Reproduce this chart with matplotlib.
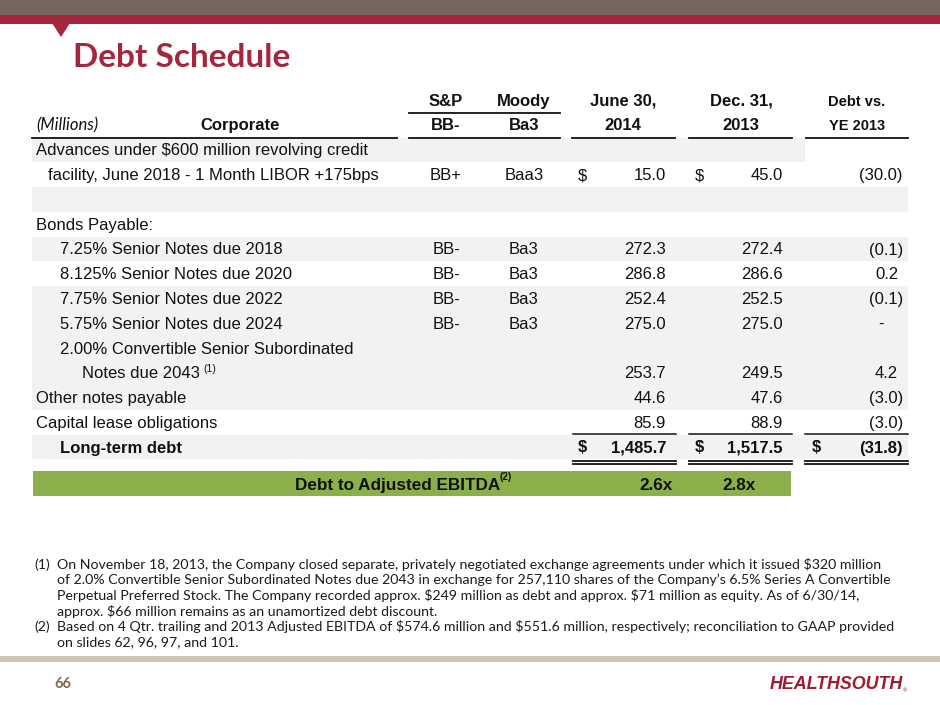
import matplotlib.pyplot as plt
from matplotlib.patches import Rectangle, Polygon

plt.rcParams['text.parse_math'] = False

# table content (millions)
row_labels = ["Advances under $600 million revolving credit",
              "facility, June 2018 - 1 Month LIBOR +175bps",
              "",
              "Bonds Payable:",
              "7.25% Senior Notes due 2018",
              "8.125% Senior Notes due 2020",
              "7.75% Senior Notes due 2022",
              "5.75% Senior Notes due 2024",
              "2.00% Convertible Senior Subordinated",
              "Notes due 2043",
              "Other notes payable",
              "Capital lease obligations",
              "Long-term debt"]
sp_rating = ["", "BB+", "", "", "BB-", "BB-", "BB-", "BB-", "", "", "", "", ""]
moody_rating = ["", "Baa3", "", "", "Ba3", "Ba3", "Ba3", "Ba3", "", "", "", "", ""]
jun_2014 = [None, 15.0, None, None, 272.3, 286.8, 252.4, 275.0, None, 253.7, 44.6, 85.9, 1485.7]
dec_2013 = [None, 45.0, None, None, 272.4, 286.6, 252.5, 275.0, None, 249.5, 47.6, 88.9, 1517.5]
vs_ye2013 = [None, -30.0, None, None, -0.1, 0.2, -0.1, 0.0, None, 4.2, -3.0, -3.0, -31.8]
ebitda_multiple = [2.6, 2.8]

footnotes = [
    ("(1)", ["On November 18, 2013, the Company closed separate, privately negotiated exchange agreements under which it issued $320 million",
             "of 2.0% Convertible Senior Subordinated Notes due 2043 in exchange for 257,110 shares of the Company\u2019s 6.5% Series A Convertible",
             "Perpetual Preferred Stock. The Company recorded approx. $249 million as debt and approx. $71 million as equity. As of 6/30/14,",
             "approx. $66 million remains as an unamortized debt discount."]),
    ("(2)", ["Based on 4 Qtr. trailing and 2013 Adjusted EBITDA of $574.6 million and $551.6 million, respectively; reconciliation to GAAP provided",
             "on slides 62, 96, 97, and 101."]),
]

# layout / style
indent_px = [36, 48, 36, 36, 60, 60, 60, 60, 60, 82, 36, 36, 60]
shade = [805, 0, 908, 0, 908, 0, 908, 908, 908, 908, 908, 0, 908]
dollar_rows = [1, 12]
RED = "#A6263E"
BROWN = "#76675E"
GRAY = "#F2F2F2"
GREEN = "#8BAF4A"
INK = "#111111"
TF = "Liberation Sans"


def fmt(v):
    if v == 0:
        return "-"
    s = f"{abs(v):,.1f}"
    return f"({s})" if v < 0 else s


fig = plt.figure(figsize=(9.4, 7.05), dpi=100)
ax = fig.add_axes([0, 0, 1, 1])
ax.set_xlim(0, 940)
ax.set_ylim(705, 0)
ax.axis("off")

# header band
ax.add_patch(Rectangle((0, 0), 940, 15, color=BROWN, lw=0))
ax.add_patch(Rectangle((0, 15), 940, 9, color=RED, lw=0))
ax.add_patch(Polygon([(52, 23), (70, 23), (61, 37)], closed=True, color=RED, lw=0))
ax.text(73, 67, "Debt Schedule", fontsize=24, fontweight="bold", family="Lato",
        color=RED, va="baseline")

# column headers
hy1, hy2 = 106, 130
ax.text(446, hy1, "S&P", fontsize=12, fontweight="bold", family=TF, ha="center", va="baseline", color=INK)
ax.text(524, hy1, "Moody", fontsize=12, fontweight="bold", family=TF, ha="center", va="baseline", color=INK)
ax.text(623, hy1, "June 30,", fontsize=12, fontweight="bold", family=TF, ha="center", va="baseline", color=INK)
ax.text(741, hy1, "Dec. 31,", fontsize=12, fontweight="bold", family=TF, ha="center", va="baseline", color=INK)
ax.text(857, hy1, "Debt vs.", fontsize=10.5, fontweight="bold", family=TF, ha="center", va="baseline", color=INK)
ax.text(36, hy2, "(Millions)", fontsize=12, fontstyle="italic", family="Lato", va="baseline", color=INK)
ax.text(240, hy2, "Corporate", fontsize=12, fontweight="bold", family=TF, ha="center", va="baseline", color=INK)
ax.text(446, hy2, "BB-", fontsize=12, fontweight="bold", family=TF, ha="center", va="baseline", color=INK)
ax.text(524, hy2, "Ba3", fontsize=12, fontweight="bold", family=TF, ha="center", va="baseline", color=INK)
ax.text(623, hy2, "2014", fontsize=12, fontweight="bold", family=TF, ha="center", va="baseline", color=INK)
ax.text(741, hy2, "2013", fontsize=12, fontweight="bold", family=TF, ha="center", va="baseline", color=INK)
ax.text(857, hy2, "YE 2013", fontsize=10.5, fontweight="bold", family=TF, ha="center", va="baseline", color=INK)
ax.plot([409, 560], [113, 113], color=INK, lw=1.3)
for x0, x1 in [(32, 397), (409, 560), (572, 675), (689, 792), (806, 908)]:
    ax.plot([x0, x1], [138, 138], color=INK, lw=1.3)

# body rows
y0, pitch = 150, 24.75
for i, lab in enumerate(row_labels):
    yc = y0 + i * pitch
    if shade[i]:
        ax.add_patch(Rectangle((32, yc - pitch / 2), shade[i] - 32, pitch, color=GRAY, lw=0))
    yb = yc + 5.5
    bold = "bold" if i == len(row_labels) - 1 else "normal"
    ax.text(indent_px[i], yb, lab, fontsize=12, family=TF, fontweight=bold, va="baseline", color=INK)
    ax.text(446, yb, sp_rating[i], fontsize=12, family=TF, ha="center", va="baseline", color=INK)
    ax.text(524, yb, moody_rating[i], fontsize=12, family=TF, ha="center", va="baseline", color=INK)
    if jun_2014[i] is not None:
        ax.text(666, yb, fmt(jun_2014[i]), fontsize=12, family=TF, fontweight=bold, ha="right", va="baseline", color=INK)
        ax.text(783, yb, fmt(dec_2013[i]), fontsize=12, family=TF, fontweight=bold, ha="right", va="baseline", color=INK)
        v = vs_ye2013[i]
        if v == 0:
            ax.text(881, yb, "-", fontsize=12, family=TF, ha="center", va="baseline", color=INK)
        else:
            ax.text(903 if v < 0 else 898, yb, fmt(v), fontsize=12, family=TF, fontweight=bold,
                    ha="right", va="baseline", color=INK)
    if i in dollar_rows:
        ax.text(578, yb, "$", fontsize=12, family=TF, fontweight=bold, va="baseline", color=INK)
        ax.text(695, yb, "$", fontsize=12, family=TF, fontweight=bold, va="baseline", color=INK)
        if i == len(row_labels) - 1:
            ax.text(812, yb, "$", fontsize=12, family=TF, fontweight=bold, va="baseline", color=INK)

ax.text(203, y0 + 9 * pitch - 1, "(1)", fontsize=7.5, family=TF, va="baseline", color=INK)

# total rules
for x0, x1 in [(573, 676), (689, 792), (805, 908)]:
    ax.plot([x0, x1], [434, 434], color=INK, lw=1.1)
    ax.plot([x0, x1], [460.5, 460.5], color=INK, lw=1.3)
    ax.plot([x0, x1], [463.5, 463.5], color=INK, lw=1.3)

# leverage band
ax.add_patch(Rectangle((33, 471), 758, 25, color=GREEN, lw=0))
ax.text(500, 490, "Debt to Adjusted EBITDA", fontsize=12.3, fontweight="bold", family=TF,
        ha="right", va="baseline", color=INK)
ax.text(500, 480, "(2)", fontsize=7, fontweight="bold", family=TF, va="baseline", color=INK)
for xr, m in zip([673, 756], ebitda_multiple):
    ax.text(xr, 490, f"{m:.1f}x", fontsize=12.3, fontweight="bold", family=TF, ha="right", va="baseline", color=INK)

# footnotes
fy = 569
for tag, lines in footnotes:
    ax.text(34, fy, tag, fontsize=10.2, family="Lato", va="baseline", color="#1c1c1c")
    for ln in lines:
        ax.text(57, fy, ln, fontsize=10.2, family="Lato", va="baseline", color="#1c1c1c")
        fy += 15.5

# footer
ax.add_patch(Rectangle((0, 656), 940, 5.5, color="#CCC5B5", lw=0))
ax.text(54, 688, "66", fontsize=10.5, fontweight="bold", family="Lato", va="baseline", color="#7D6B4F")
ax.text(770, 689, "HEALTHSOUTH", fontsize=12.9, fontweight="heavy", fontstyle="italic",
        family=TF, va="baseline", color="#9E1B32")
ax.text(903, 692, "\u00ae", fontsize=4, family=TF, va="baseline", color="#9E1B32")

fig.savefig("out.png", dpi=100)
